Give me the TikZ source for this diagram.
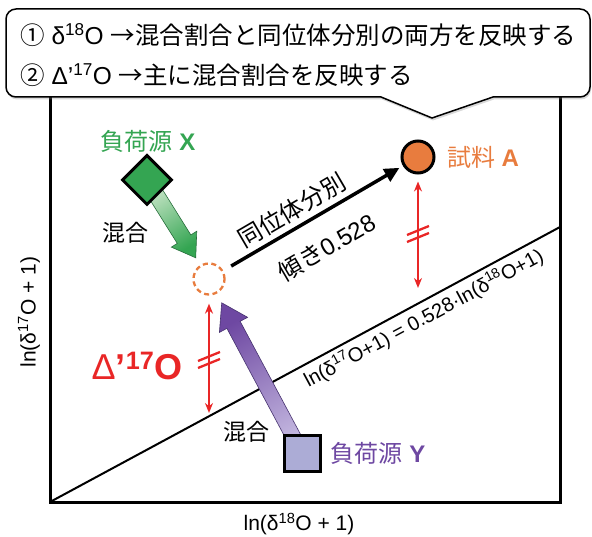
\documentclass[tikz,border=0pt]{standalone}
\usepackage{fontspec}
\setmainfont{Liberation Sans}
\newfontfamily\jp{Noto Sans CJK JP}
\usetikzlibrary{shapes.geometric,calc,arrows.meta,shadows}
\definecolor{cgreen}{RGB}{52,165,82}
\definecolor{cgreenL}{RGB}{210,234,208}
\definecolor{cgreenD}{RGB}{40,110,60}
\definecolor{corange}{RGB}{232,124,62}
\definecolor{cpurple}{RGB}{110,72,162}
\definecolor{cpurpleL}{RGB}{196,184,224}
\definecolor{cpurpleD}{RGB}{70,50,110}
\definecolor{clav}{RGB}{172,172,214}
\definecolor{cred}{RGB}{233,38,38}
\newcommand\myfs[1]{\fontsize{#1}{#1}\selectfont}
\begin{document}
\begin{tikzpicture}[x=1pt,y=-1pt,
  txt/.style={inner sep=0pt, anchor=center},
  marker/.style={line width=3pt, draw=black, inner sep=0pt},
  redarr/.style={draw=cred, line width=2pt, {Stealth[length=10pt,width=8pt]}-{Stealth[length=10pt,width=8pt]}},
  tickmark/.style={draw=cred, line width=2.3pt},
  fatgreen/.style={top color=cgreen, bottom color=cgreenL, shading angle=-147.9, draw=cgreenD, line width=0.6pt},
  fatpurple/.style={top color=cpurple, bottom color=cpurpleL, shading angle=28.1, draw=cpurpleD, line width=0.6pt},
]
\useasboundingbox (0,0) rectangle (592,537);
% frame
\coordinate (O) at (50,502);
\coordinate (TL) at (50,90);
\coordinate (BR) at (560,502);
\coordinate (TR) at (560,90);
\coordinate (R) at (560,227);
\draw[line width=3pt] (TL) -- (O) -- (BR) -- (TR);
% callout
\draw[fill=white, line width=1.5pt, drop shadow={opacity=0.3, shadow xshift=1pt, shadow yshift=-2.5pt}]
  (540,97) [rounded corners=10pt] -- (590,97) -- (590,9) -- (6,9) -- (6,97) -- (300,97) [sharp corners] -- (381,97) -- (432,118) -- (493,97) -- cycle;
\node[txt, anchor=west] (t1) at (20,35) {\myfs{24.5}{\jp ①} δ\textsuperscript{18}O {\jp →混合割合と同位体分別の両方を反映する}};
\node[txt, anchor=west] (t2) at (20,75) {\myfs{24.5}{\jp ②} Δ'\textsuperscript{17}O {\jp →主に混合割合を反映する}};
% reference line
\draw[line width=2pt] (O) -- (R) node[pos=0.718, sloped, below=4pt, inner sep=0pt, font={\myfs{20}}] (eq) {ln(δ\textsuperscript{17}O+1) = 0.528·ln(δ\textsuperscript{18}O+1)};
% nodes (positions)
\node[circle, draw=corange, line width=2.3pt, dash pattern=on 5pt off 3.5pt, minimum size=31pt, inner sep=0pt] (mix) at (209,279) {};
\coordinate (Xc) at (147,180);
\coordinate (Yc) at (302,453);
% fat arrows
\coordinate (gH) at ($(mix)!25pt!(Xc)$);
\coordinate (gB) at ($(gH)!22pt!(Xc)$);
\shade[fatgreen] ($(Xc)!8pt!90:(gH)$) -- ($(gB)!8pt!90:(gH)$) -- ($(gB)!15pt!90:(gH)$) -- (gH) -- ($(gB)!15pt!-90:(gH)$) -- ($(gB)!8pt!-90:(gH)$) -- ($(Xc)!8pt!-90:(gH)$) -- cycle;
\coordinate (pH) at ($(mix)!27pt!(Yc)$);
\coordinate (pB) at ($(pH)!25pt!(Yc)$);
\shade[fatpurple] ($(Yc)!7.5pt!90:(pH)$) -- ($(pB)!7.5pt!90:(pH)$) -- ($(pB)!16pt!90:(pH)$) -- (pH) -- ($(pB)!16pt!-90:(pH)$) -- ($(pB)!7.5pt!-90:(pH)$) -- ($(Yc)!7.5pt!-90:(pH)$) -- cycle;
% markers
\node[diamond, marker, fill=cgreen, minimum width=50pt, minimum height=50pt] (X) at (Xc) {};
\node[circle, marker, fill=corange, minimum size=32pt] (A) at (418,157) {};
\node[rectangle, marker, fill=clav, minimum size=36pt] (Y) at (Yc) {};
% labels
\node[txt, text=cgreen] (Xl) at (148,141) {\myfs{24}{\jp 負荷源} \textbf{X}};
\node[txt, text=corange] (Al) at (483,157) {\myfs{24}{\jp 試料} \textbf{A}};
\node[txt, text=cpurple] (Yl) at (378,453) {\myfs{24}{\jp 負荷源} \textbf{Y}};
\node[txt] (m1) at (125,233) {\myfs{23}\jp 混合};
\node[txt] (m2) at (246,432) {\myfs{23}\jp 混合};
\node[txt, text=cred] (D) at (137,366) {\myfs{36}Δ\textbf{’\textsuperscript{17}O}};
% isotope fractionation arrow
\draw[line width=3.5pt, -{Triangle[length=15pt,width=14pt]}, shorten <=9pt, shorten >=4pt] (mix) -- (A)
  node[pos=0.43, sloped, above=5pt, inner sep=0pt, font={\myfs{24}\jp}] (fr) {同位体分別}
  node[pos=0.487, sloped, below=19pt, inner sep=0pt, font={\myfs{24}}] (sl) {{\jp 傾き}0.528};
% red double arrows
\coordinate (L1) at (209,413);
\coordinate (L2) at (418,288);
\draw[redarr, shorten <=8pt] (mix) -- (L1);
\draw[redarr, shorten <=7pt] (A) -- (L2);
\coordinate (k1) at (209,360);
\coordinate (k2) at (418,234);
\draw[tickmark] ($(k1)+(-11,1)$) -- ($(k1)+(11,-8)$);
\draw[tickmark] ($(k1)+(-11,8)$) -- ($(k1)+(11,-1)$);
\draw[tickmark] ($(k2)+(-11,1)$) -- ($(k2)+(11,-8)$);
\draw[tickmark] ($(k2)+(-11,8)$) -- ($(k2)+(11,-1)$);
% axis labels
\node[txt] (xl) at (299,524) {\myfs{21}ln(δ\textsuperscript{18}O + 1)};
\node[txt, rotate=90] (yl) at (29,312) {\myfs{21}ln(δ\textsuperscript{17}O + 1)};
\end{tikzpicture}
\end{document}
